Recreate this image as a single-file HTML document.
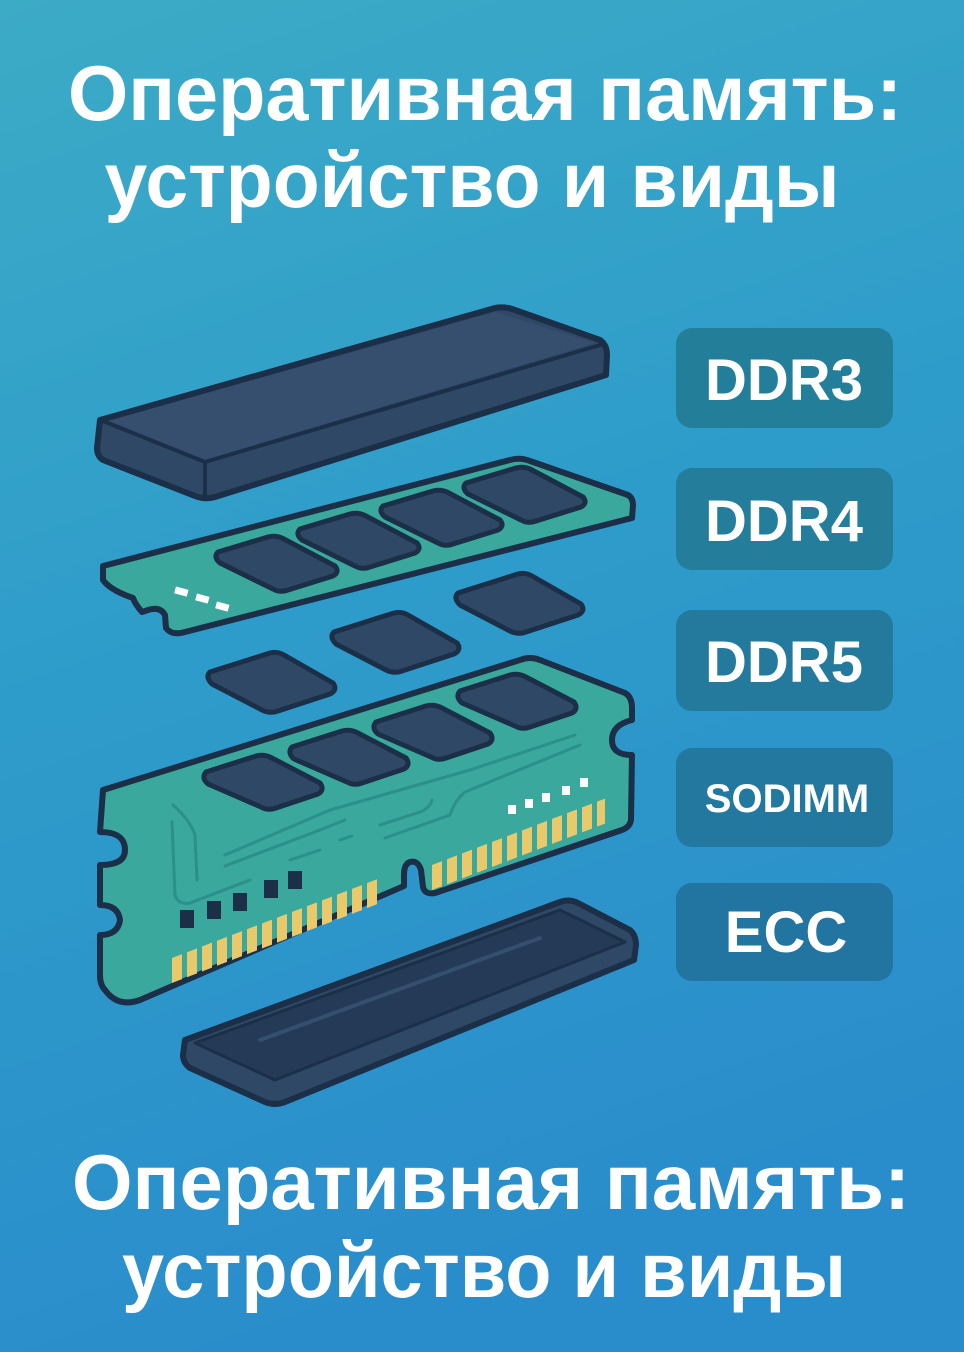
<!DOCTYPE html>
<html><head><meta charset="utf-8"><style>
html,body{margin:0;padding:0;width:964px;height:1352px;overflow:hidden}
svg{display:block}
text{font-family:"Liberation Sans","DejaVu Sans",sans-serif;font-weight:bold;fill:#fff}
</style></head><body>
<svg width="964" height="1352" viewBox="0 0 964 1352" xmlns="http://www.w3.org/2000/svg">
<defs>
<linearGradient id="bg" x1="0" y1="0" x2="0.25" y2="1">
<stop offset="0" stop-color="#3cabc6"/>
<stop offset="0.5" stop-color="#2e9cca"/>
<stop offset="1" stop-color="#2a8dcb"/>
</linearGradient>
</defs>
<rect width="964" height="1352" fill="url(#bg)"/>

<text x="485" y="120" font-size="78" text-anchor="middle" textLength="834" lengthAdjust="spacingAndGlyphs">Оперативная память:</text>
<text x="472" y="207" font-size="78" text-anchor="middle" textLength="735" lengthAdjust="spacingAndGlyphs">устройство и виды</text>
<text x="491" y="1209" font-size="78" text-anchor="middle" textLength="838" lengthAdjust="spacingAndGlyphs">Оперативная память:</text>
<text x="484" y="1297" font-size="78" text-anchor="middle" textLength="724" lengthAdjust="spacingAndGlyphs">устройство и виды</text>

<g>
<rect x="676" y="328" width="217" height="100" rx="16" fill="#237f99"/>
<rect x="676" y="468" width="217" height="102" rx="16" fill="#237d9b"/>
<rect x="676" y="610" width="217" height="101" rx="16" fill="#237a9d"/>
<rect x="676" y="748" width="217" height="99" rx="16" fill="#22789f"/>
<rect x="676" y="883" width="217" height="98" rx="16" fill="#2275a0"/>
<text x="784" y="400" font-size="58" text-anchor="middle">DDR3</text>
<text x="784" y="541" font-size="58" text-anchor="middle">DDR4</text>
<text x="784" y="682" font-size="58" text-anchor="middle">DDR5</text>
<text x="787" y="812" font-size="40" text-anchor="middle">SODIMM</text>
<text x="786" y="952" font-size="58" text-anchor="middle">ECC</text>
</g>

<g stroke="#1b3048" stroke-width="6" stroke-linejoin="round" stroke-linecap="round">
<path d="M100,420 L495,308 Q505,306 515,310 L600,340 Q607,345 607,355 L606,375 L215,497 Q205,500 195,496 L103,460 Q97,456 97,448 Z" fill="#2f4866"/>
<path d="M108,421 L495,312 L595,343 L205,460 Z" fill="#364f6e" stroke="none"/>
<path d="M103,421 L205,462 L600,345" fill="none" stroke-width="4"/>
<path d="M205,462 L205,495" fill="none" stroke-width="4"/>

<path d="M103,566 L510,460 Q520,457 530,461 L628,495 Q633,498 633,505 L632,518 L185,632 Q172,636 166,628 L165,615 Q160,606 148,610 L142,612 Q135,604 133,598 Q110,590 103,580 Z" fill="#3aa89c"/>
<g fill="#2f4866" stroke-width="5">
<path d="M218,552 L268,537 Q275,535 282,538 L335,566 Q340,572 333,576 L288,590 Q280,593 273,589 L220,563 Q213,557 218,552 Z"/>
<path d="M300,529 L350,514 Q357,512 364,515 L417,543 Q422,549 415,553 L370,567 Q362,570 355,566 L302,540 Q295,534 300,529 Z"/>
<path d="M383,506 L433,491 Q440,489 447,492 L500,520 Q505,526 498,530 L453,544 Q445,547 438,543 L385,517 Q378,511 383,506 Z"/>
<path d="M466,483 L516,468 Q523,466 530,469 L583,497 Q588,503 581,507 L536,521 Q528,524 521,520 L468,494 Q461,488 466,483 Z"/>
</g>
<g fill="#fff" stroke="none">
<rect x="175" y="588" width="13" height="7" transform="rotate(15 181 591)"/>
<rect x="196" y="595" width="13" height="7" transform="rotate(15 202 598)"/>
<rect x="216" y="603" width="13" height="7" transform="rotate(15 222 606)"/>
</g>

<g fill="#2f4866" stroke-width="5">
<path d="M210,672 L270,653 Q277,651 284,655 L333,683 Q338,690 330,694 L278,711 Q270,714 262,710 L212,684 Q205,677 210,672 Z"/>
<path d="M334,632 L394,613 Q401,611 408,615 L457,643 Q462,650 454,654 L402,671 Q394,674 386,670 L336,644 Q329,637 334,632 Z"/>
<path d="M458,593 L518,574 Q525,572 532,576 L581,604 Q586,611 578,615 L526,632 Q518,635 510,631 L460,605 Q453,598 458,593 Z"/>
</g>

<path d="M103,790 L520,660 Q530,656 540,660 L625,693 Q632,697 632,708 L632,720 Q612,725 612,740 Q612,755 632,755 L631,820 Q630,827 622,830 L435,893 Q425,895 423,887 L421,870 Q418,860 410,862 Q404,864 404,875 L404,886 L140,1000 Q118,1008 105,990 Q100,985 100,975 L100,935 Q118,935 120,920 Q118,905 100,905 L100,865 Q125,865 125,850 Q125,832 100,832 Z" fill="#3aa89c"/>
<g fill="none" stroke="#2b8f8a" stroke-width="3">
<path d="M173,805 Q190,820 195,835 L197,880"/>
<path d="M172,822 L175,895 Q178,905 190,903 L250,880"/>
<path d="M225,866 L320,830 L345,820"/>
<path d="M290,860 L320,850"/>
<path d="M340,840 L352,836"/>
<path d="M380,825 L420,812 Q430,808 432,800"/>
<path d="M385,838 L450,815 Q455,800 465,792 L580,745"/>
<path d="M225,855 L330,810 L470,770 L575,735"/>
</g>
<g fill="#1b3048" stroke="none">
<rect x="180" y="910" width="14" height="18"/>
<rect x="207" y="901" width="14" height="18"/>
<rect x="233" y="893" width="14" height="18"/>
<rect x="264" y="880" width="14" height="18"/>
<rect x="288" y="871" width="14" height="18"/>
</g>
<g fill="#fff" stroke="none">
<rect x="508" y="805" width="8" height="9"/>
<rect x="525" y="799" width="8" height="9"/>
<rect x="542" y="793" width="8" height="9"/>
<rect x="562" y="786" width="8" height="9"/>
<rect x="580" y="778" width="8" height="9"/>
</g>
<g fill="#e9c96a" stroke="none">
<g transform="translate(172,980) skewY(-21)">
<rect x="0" y="-22" width="10" height="25"/><rect x="15" y="-22" width="10" height="25"/><rect x="30" y="-22" width="10" height="25"/><rect x="45" y="-22" width="10" height="25"/><rect x="60" y="-22" width="10" height="25"/><rect x="75" y="-22" width="10" height="25"/><rect x="90" y="-22" width="10" height="25"/><rect x="105" y="-22" width="10" height="25"/><rect x="120" y="-22" width="10" height="25"/><rect x="135" y="-22" width="10" height="25"/><rect x="150" y="-22" width="10" height="25"/><rect x="165" y="-22" width="10" height="25"/><rect x="180" y="-22" width="10" height="25"/><rect x="195" y="-22" width="10" height="25"/>
</g>
<g transform="translate(432,890) skewY(-21)">
<rect x="0" y="-25" width="10" height="25"/><rect x="15" y="-25" width="10" height="25"/><rect x="30" y="-25" width="10" height="25"/><rect x="45" y="-25" width="10" height="25"/><rect x="60" y="-25" width="10" height="25"/><rect x="75" y="-25" width="10" height="25"/><rect x="90" y="-25" width="10" height="25"/><rect x="105" y="-25" width="10" height="25"/><rect x="120" y="-25" width="10" height="25"/><rect x="135" y="-25" width="10" height="25"/><rect x="150" y="-25" width="10" height="25"/><rect x="165" y="-25" width="8" height="25"/>
</g>
</g>
<g fill="#2f4866" stroke-width="5">
<path d="M206,772 L256,756 Q263,754 270,757 L320,783 Q325,790 318,794 L276,808 Q268,811 261,807 L208,784 Q201,778 206,772 Z"/>
<path d="M292,747 L342,731 Q349,729 356,732 L406,758 Q411,765 404,769 L362,783 Q354,786 347,782 L294,759 Q287,753 292,747 Z"/>
<path d="M376,722 L426,706 Q433,704 440,707 L490,733 Q495,740 488,744 L446,758 Q438,761 431,757 L378,734 Q371,728 376,722 Z"/>
<path d="M460,691 L510,675 Q517,673 524,676 L574,702 Q579,709 572,713 L530,727 Q522,730 515,726 L462,703 Q455,697 460,691 Z"/>
</g>

<path d="M185,1040 L560,902 Q568,899 576,902 L630,930 Q636,935 636,945 L634,960 L285,1102 Q275,1106 265,1102 L190,1068 Q183,1063 183,1055 Z" fill="#2f4866"/>
<path d="M195,1043 L560,910 L625,942 L275,1080 Z" fill="#243a56" stroke-width="3"/>
<path d="M260,1040 L540,938" fill="none" stroke="#354f6e" stroke-width="4"/>
</g>
</svg>
</body></html>
